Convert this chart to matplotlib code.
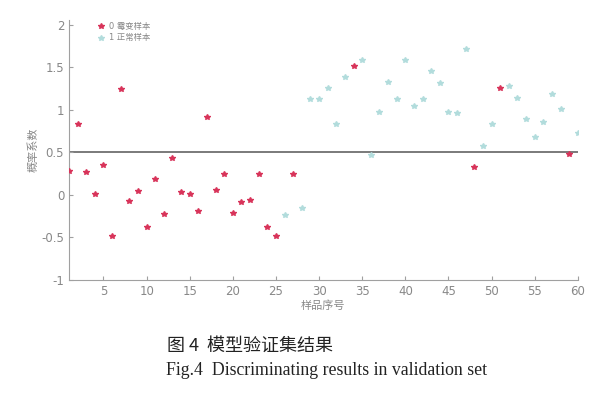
import matplotlib
matplotlib.use("Agg")
import matplotlib.pyplot as plt

plt.rcParams['font.family'] = ['DejaVu Sans', 'Noto Sans CJK SC']

# sample numbers and predicted values
x_red = [1, 2, 3, 4, 5, 6, 7, 8, 9, 10, 11, 12, 13, 14, 15, 16, 17, 18, 19, 20,
         21, 22, 23, 24, 25, 27, 34, 48, 51, 59]
y_red = [0.28, 0.83, 0.27, 0.01, 0.35, -0.48, 1.24, -0.07, 0.04, -0.38, 0.19, -0.23,
         0.43, 0.03, 0.01, -0.19, 0.92, 0.06, 0.25, -0.22, -0.09, -0.06, 0.25, -0.38,
         -0.49, 0.25, 1.51, 0.33, 1.26, 0.48]
x_cyan = [26, 28, 29, 30, 31, 32, 33, 35, 36, 37, 38, 39, 40, 41, 42, 43, 44, 45, 46,
          47, 49, 50, 52, 53, 54, 55, 56, 57, 58, 60]
y_cyan = [-0.24, -0.15, 1.13, 1.13, 1.26, 0.83, 1.38, 1.59, 0.47, 0.97, 1.33, 1.13,
          1.59, 1.04, 1.13, 1.46, 1.31, 0.97, 0.96, 1.72, 0.57, 0.83, 1.28, 1.14,
          0.89, 0.68, 0.86, 1.19, 1.01, 0.73]
threshold = 0.5

fig = plt.figure(figsize=(6, 3.93), dpi=100)
ax = fig.add_axes([0.115, 0.288, 0.848, 0.662])

ax.axhline(threshold, color="#707070", lw=1.3, zorder=1)
ax.plot(x_red, y_red, "*", color="#d8345a", ms=4, label="0 霉变样本", zorder=3)
ax.plot(x_cyan, y_cyan, "*", color="#b2dcdc", ms=4, label="1 正常样本", zorder=3)

ax.set_xlim(1, 60)
ax.set_ylim(-1, 2.06)
ax.set_xticks(range(5, 61, 5))
ax.set_yticks([-1, -0.5, 0, 0.5, 1, 1.5, 2])
ax.set_yticklabels(["-1", "-0.5", "0", "0.5", "1", "1.5", "2"])
for s in ["top", "right"]:
    ax.spines[s].set_visible(False)
for s in ["left", "bottom"]:
    ax.spines[s].set_color("#a0a0a0")
ax.tick_params(colors="#a0a0a0", labelcolor="#888888", labelsize=8.5, length=3, direction="in")

ax.set_xlabel("样品序号", color="#888888", fontsize=8, labelpad=2)
ax.set_ylabel("概率系数", color="#888888", fontsize=8, labelpad=2)

leg = ax.legend(loc="upper left", bbox_to_anchor=(0.04, 1.02), frameon=False,
                fontsize=6, handletextpad=0.4, labelspacing=0.3, handlelength=1)
for t in leg.get_texts():
    t.set_color("#888888")

fig.text(0.417, 0.12, "图 4  模型验证集结果", ha="center", va="center", fontsize=13,
         family=["Noto Sans CJK SC"], color="#222222")
fig.text(0.545, 0.058, "Fig.4  Discriminating results in validation set", ha="center",
         va="center", fontsize=12.8, family=["Liberation Serif"], color="#222222")

fig.savefig("out.png", dpi=100)
